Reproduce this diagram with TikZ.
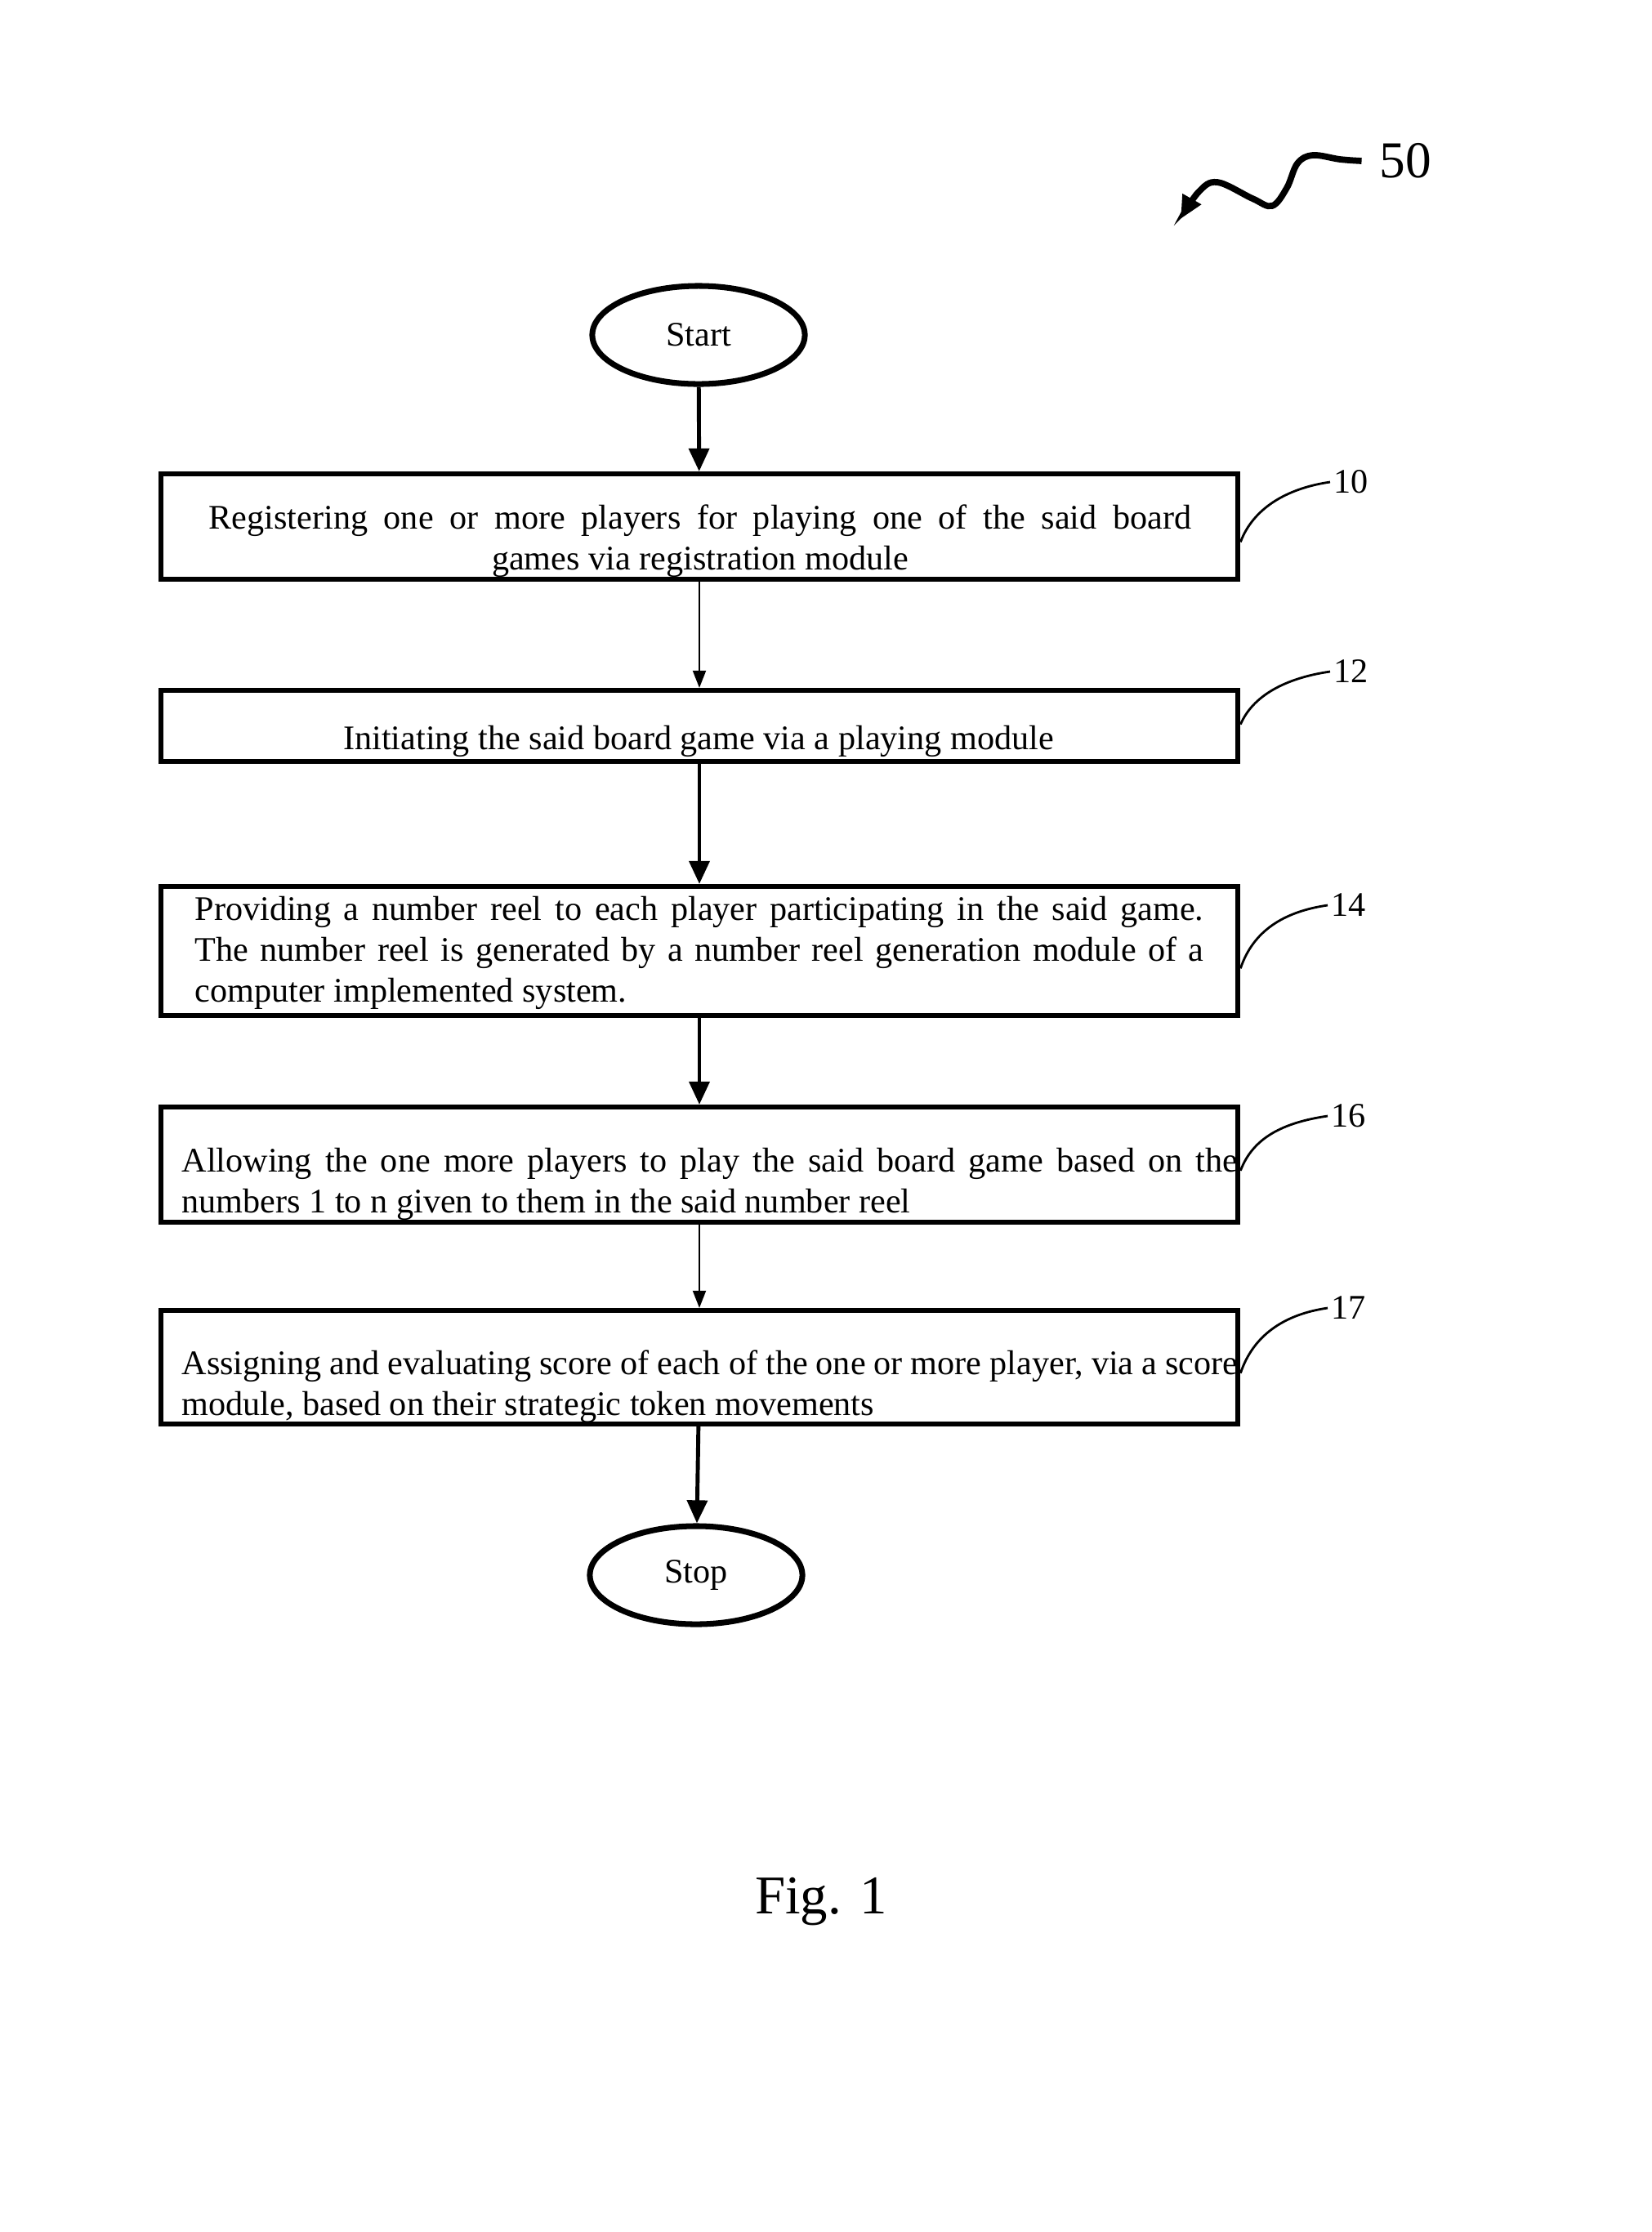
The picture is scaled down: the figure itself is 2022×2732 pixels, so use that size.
\documentclass[tikz,border=0pt]{standalone}
\usepackage{fontspec}
\setmainfont{Liberation Serif}
\usetikzlibrary{positioning, arrows.meta, shapes.geometric, calc}
\tikzset{
  terminal/.style={
    draw, ellipse, line width=2pt, minimum width=2.6cm,
    minimum height=1.2cm, inner sep=0pt, font=\fontsize{12}{14.2}\selectfont
  },
  stepbox/.style={draw, rectangle, line width=1.7pt, minimum width=13.18cm},
  steptext/.style={inner sep=0pt, font=\fontsize{12}{14.2}\selectfont, align=justify},
  flow/.style={-{Triangle[length=8pt, width=7pt]}, line width=1.4pt},
  thinflow/.style={-{Triangle[length=6pt, width=4.5pt]}, line width=0.7pt},
  leader/.style={line width=0.8pt},
  refnum/.style={font=\fontsize{12}{14.2}\selectfont, inner sep=1pt, anchor=west}
}

\begin{document}
\begin{tikzpicture}[x=0.01cm, y=-0.01cm]
  \useasboundingbox (0,0) rectangle (2022,2732);

  % start and stop
  \node[terminal] (start) at (855,410) {Start};
  \node[terminal] (stop) at (852,1928) {Stop};

  % process boxes
  \node[stepbox, minimum height=1.29cm] (s10) at (856,644.5) {};
  \node[stepbox, minimum height=0.87cm] (s12) at (856,888.5) {};
  \node[stepbox, minimum height=1.58cm] (s14) at (856,1164) {};
  \node[stepbox, minimum height=1.41cm] (s16) at (856,1425.5) {};
  \node[stepbox, minimum height=1.39cm] (s17) at (856,1673.5) {};

  % texts of the boxes
  \node[steptext, align=center] (t10) at (857,662) {\makebox[12.02cm][s]{Registering one or more players for playing one of the said board}\\ games via registration module};
  \node[steptext, align=center] (t12) at (855,907) {Initiating the said board game via a playing module};
  \node[steptext, text width=12.34cm] (t14) at (856,1166) {Providing a number reel to each player participating in the said game.\linebreak The number reel is generated by a number reel generation module of a\linebreak computer implemented system.};
  \node[steptext, text width=12.92cm] (t16) at (869,1449) {Allowing the one more players to play the said board game based on the\linebreak numbers 1 to n given to them in the said number reel};
  \node[steptext, text width=12.92cm] (t17) at (869,1697.5) {Assigning and evaluating score of each of the one or more player, via a score\linebreak module, based on their strategic token movements};

  % flow
  \draw[flow] (start) -- (s10);
  \draw[thinflow] (s10) -- (s12);
  \draw[flow] (s12) -- (s14);
  \draw[flow] (s14) -- (s16);
  \draw[thinflow] (s16) -- (s17);
  \draw[flow] (s17) -- (stop);

  % reference numerals
  \node[refnum] (r10) at (1628,590) {10};
  \node[refnum] (r12) at (1628,822) {12};
  \node[refnum] (r14) at (1625,1108) {14};
  \node[refnum] (r16) at (1625,1366) {16};
  \node[refnum] (r17) at (1625,1601) {17};
  \draw[leader] ($(s10.north east)!0.64!(s10.south east)$) .. controls +(15,-40) and +(-55,8) .. (r10.west);
  \draw[leader] ($(s12.north east)!0.48!(s12.south east)$) .. controls +(15,-35) and +(-55,8) .. (r12.west);
  \draw[leader] ($(s14.north east)!0.63!(s14.south east)$) .. controls +(15,-45) and +(-55,8) .. (r14.west);
  \draw[leader] ($(s16.north east)!0.55!(s16.south east)$) .. controls +(15,-40) and +(-55,8) .. (r16.west);
  \draw[leader] ($(s17.north east)!0.55!(s17.south east)$) .. controls +(15,-45) and +(-55,8) .. (r17.west);

  % figure number 50
  \node[font=\fontsize{18}{20}\selectfont, inner sep=6pt] (n50) at (1720,197) {50};
  \coordinate (p50) at (1445,268);
  \draw[line width=2.2pt, -{Triangle[length=8pt, width=7pt]}] plot[smooth, tension=0.6] coordinates {(n50.west) (1640,195) (1607,190) (1588,200) (1575,230) (1557,252) (1533,243) (1490,223) (1467,235) (p50)};

  \node[font=\fontsize{19}{22}\selectfont, anchor=base] (fig) at (1005,2342) {Fig. 1};
\end{tikzpicture}
\end{document}
